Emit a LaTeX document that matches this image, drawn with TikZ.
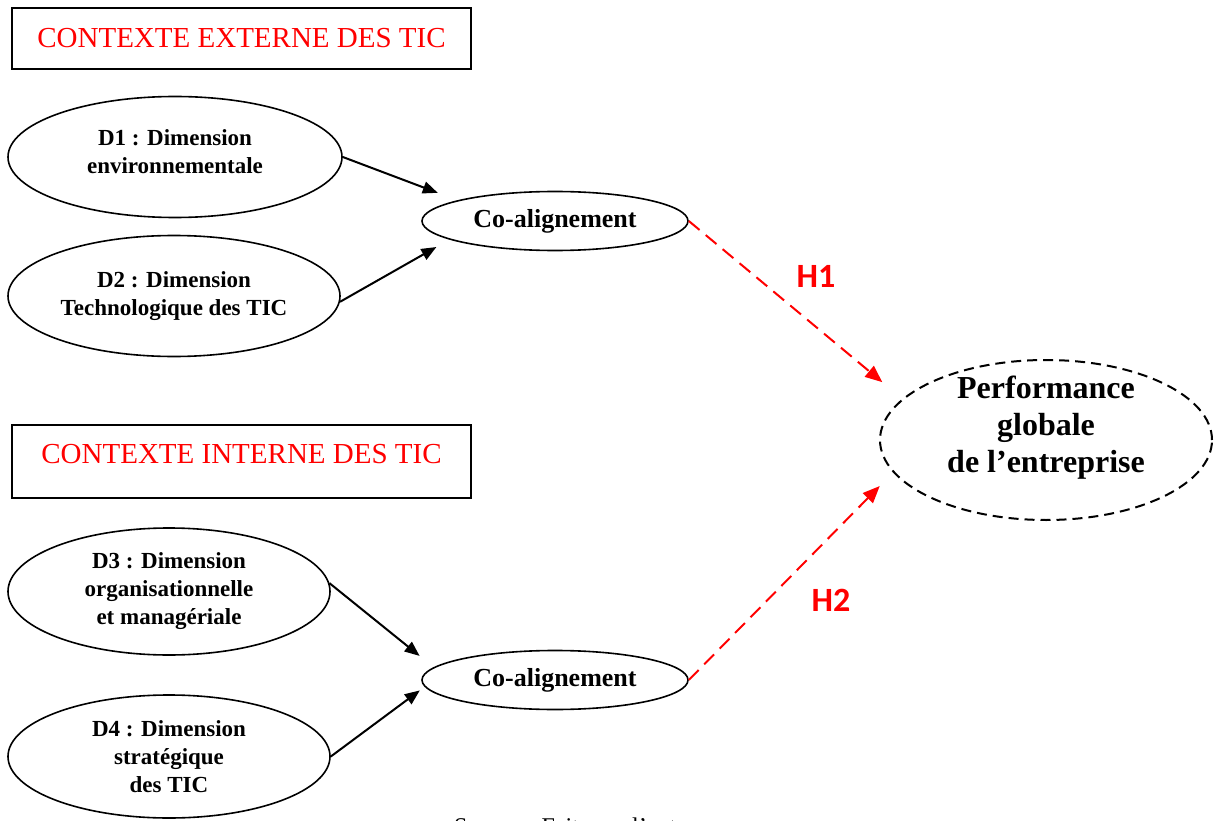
\documentclass[tikz,border=0pt]{standalone}
\usepackage{fontspec}
\setmainfont{Liberation Serif}
\newfontfamily\hypfont{Carlito}
\usetikzlibrary{shapes.geometric,arrows.meta}

\tikzset{
  contexte/.style={draw, line width=2pt, minimum width=459pt, inner sep=0pt,
    text=red, font=\fontsize{29}{34}\selectfont},
  dimension/.style={ellipse, draw, line width=1.6pt, inner sep=0pt, align=center,
    font=\fontsize{23}{28}\selectfont\bfseries},
  coalign/.style={ellipse, draw, line width=1.6pt, inner sep=0pt,
    minimum width=266pt, minimum height=59pt, font=\fontsize{26}{30}\selectfont\bfseries},
  perfbox/.style={ellipse, draw, line width=2pt, dash pattern=on 10pt off 6pt,
    minimum width=332pt, minimum height=160pt, inner sep=0pt},
  lien/.style={-{Triangle[length=15pt,width=12pt]}, line width=2pt},
  hypo/.style={-{Triangle[length=17pt,width=14pt]}, red, line width=2pt,
    dash pattern=on 14pt off 8pt},
  hlabel/.style={text=red, font=\fontsize{34}{40}\selectfont\hypfont\bfseries}
}

\begin{document}
\begin{tikzpicture}[x=1pt, y=1pt]
\useasboundingbox (0,0) rectangle (1221,-821);
\clip (0,0) rectangle (1221,-821);

%% ---- Contexte externe ----
\node[contexte, minimum height=61pt] (ctxext) at (241.5,-38.5) {CONTEXTE EXTERNE DES TIC};
\node[dimension, minimum width=334pt, minimum height=121pt, text depth=10pt] (d1) at (175,-157)
  {D1 : Dimension\\environnementale};
\node[dimension, minimum width=332pt, minimum height=121pt] (d2) at (174,-296)
  {D2 : Dimension\\Technologique des TIC};
\node[coalign] (co1) at (555,-221) {Co-alignement};

%% ---- Contexte interne ----
\node[contexte, minimum height=73pt, text depth=16pt] (ctxint) at (241.5,-461.5) {CONTEXTE INTERNE DES TIC};
\node[dimension, minimum width=322pt, minimum height=127pt] (d3) at (169,-591.5)
  {D3 : Dimension\\organisationnelle\\et manag\'eriale};
\node[dimension, minimum width=322pt, minimum height=123pt] (d4) at (169,-756.5)
  {D4 : Dimension\\strat\'egique\\des TIC};
\node[coalign] (co2) at (555,-680) {Co-alignement};

%% ---- Performance ----
\node[perfbox] (perf) at (1046,-440) {};
\node[align=center, font=\fontsize{32}{37}\selectfont\bfseries] (perftxt) at (1046,-428)
  {Performance\\globale\\de l'entreprise};

%% ---- Fleches ----
\draw[lien, shorten >=21pt] (d1.east) -- (co1.168);
\draw[lien, shorten >=15pt] (d2.-2) -- (co1.190);
\draw[lien, shorten >=18pt] (d3.3) -- (co2.174);
\draw[lien, shorten >=6pt] (d4.east) -- (co2.183);
\draw[hypo, shorten >=26pt] (co1.east) -- (perf.164);
\draw[hypo, shorten >=19pt] (co2.east) -- (perf.192);
\node[hlabel] (h1) at (816,-276) {H1};
\node[hlabel] (h2) at (831,-600) {H2};

%% ---- Source (coupee en bas) ----
\node[anchor=base west, inner sep=0pt, font=\fontsize{24}{28}\selectfont] (source) at (454,-834)
  {Source : Faite par l'auteur};

\end{tikzpicture}
\end{document}
